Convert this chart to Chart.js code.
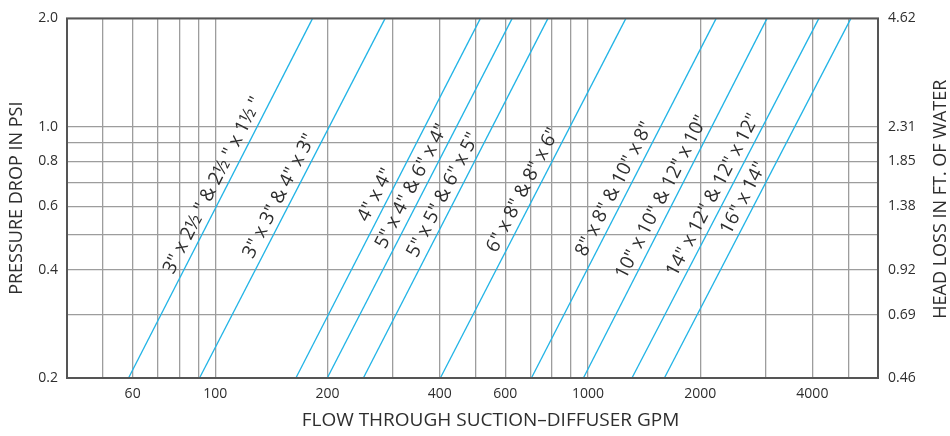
<!DOCTYPE html>
<html><head><meta charset="utf-8">
<script src="https://cdn.jsdelivr.net/npm/chart.js@4.4.1/dist/chart.umd.min.js"></script>
<style>html,body{margin:0;padding:0;background:#fff;}</style>
</head><body>
<canvas id="c" width="950" height="436"></canvas>
<script>
// ---- data ----
const seriesNames = [
  '3" x 2½ " & 2½ " x 1½ "',
  '3" x 3" & 4" x 3"',
  '4" x 4"',
  '5" x 4" & 6" x 4"',
  '5" x 5" & 6" x 5"',
  '6" x 8" & 8" x 6"',
  '8" x 8" & 10" x 8"',
  '10" x 10" & 12" x 10"',
  '14" x 12" & 12" x 12"',
  '16" x 14"'
];
const flowAtMinPsi = [58.5, 90.7, 164.5, 199.7, 249.6, 401.6, 705, 972, 1312, 1603];
const flowAtMaxPsi = [182.4, 285.6, 514.5, 626, 781, 1264, 2208, 3023, 4165, 5076];
const psiRange = [0.2, 2.0];
const flowRange = [40, 6000];
const labelPsi = [0.662, 0.618, 0.622, 0.658, 0.622, 0.642, 0.646, 0.614, 0.622, 0.61];
const flowGrid = [40,50,60,70,80,90,100,200,300,400,500,600,700,800,900,1000,2000,3000,4000,5000,6000];
const flowTickLabels = [60,100,200,400,600,1000,2000,4000];
const psiGrid = [0.2,0.3,0.4,0.5,0.6,0.7,0.8,0.9,1.0,2.0];
const psiTickLabels = [0.2,0.4,0.6,0.8,1.0,2.0];
const headTickPsi = [0.2,0.3,0.4,0.6,0.8,1.0,2.0];
const headTickLabels = ['0.46','0.69','0.92','1.38','1.85','2.31','4.62'];
const xTitle = 'FLOW THROUGH SUCTION–DIFFUSER GPM';
const yTitle = 'PRESSURE DROP IN PSI';
const y2Title = 'HEAD LOSS IN FT. OF WATER';

// ---- styles ----
const LINE_COLOR = '#22b4e6';
const GRID_COLOR = '#9d9d9d';
const TEXT_COLOR = '#2e2e2e';
const FONT = '"Open Sans", "Noto Sans", sans-serif';

const datasets = seriesNames.map((name, i) => ({
  label: name,
  data: [{x: flowAtMinPsi[i], y: psiRange[0]}, {x: flowAtMaxPsi[i], y: psiRange[1]}],
  borderColor: LINE_COLOR,
  borderWidth: 1.3,
  pointRadius: 0,
  showLine: true,
  fill: false
}));

const decorPlugin = {
  id: 'decor',
  afterDatasetsDraw(chart) {
    const ctx = chart.ctx;
    const ca = chart.chartArea;
    const ys = chart.scales.y;
    // frame
    ctx.save();
    ctx.strokeStyle = '#555';
    ctx.lineWidth = 2;
    ctx.strokeRect(ca.left, ca.top, ca.right - ca.left, ca.bottom - ca.top);
    ctx.restore();
    // series labels
    ctx.save();
    ctx.fillStyle = TEXT_COLOR;
    ctx.font = '19px ' + FONT;
    ctx.textAlign = 'center';
    ctx.textBaseline = 'middle';
    chart.data.datasets.forEach((ds, i) => {
      const pts = chart.getDatasetMeta(i).data;
      const p0 = pts[0], p1 = pts[1];
      const dx = p1.x - p0.x, dy = p1.y - p0.y;
      const len = Math.hypot(dx, dy);
      const yl = ys.getPixelForValue(labelPsi[i]);
      const t = (yl - p0.y) / dy;
      const xl = p0.x + t * dx;
      const nx = dy / len, ny = -dx / len; // upper-left normal
      const off = 12.5;
      ctx.save();
      ctx.translate(xl + nx * off, yl + ny * off);
      ctx.rotate(Math.atan2(dy, dx));
      ctx.fillText(ds.label, 0, 0);
      ctx.restore();
    });
    ctx.restore();
    // titles
    ctx.save();
    ctx.fillStyle = TEXT_COLOR;
    ctx.font = '19px ' + FONT;
    ctx.textAlign = 'center';
    ctx.textBaseline = 'middle';
    ctx.fillText(xTitle, (ca.left + ca.right) / 2 + 18, chart.height - 15);
    ctx.font = '18px ' + FONT;
    ctx.translate(chart.width - 9, (ca.top + ca.bottom) / 2 + 1);
    ctx.rotate(-Math.PI / 2);
    ctx.fillText(y2Title, 0, 0);
    ctx.restore();
  }
};

new Chart(document.getElementById('c'), {
  type: 'scatter',
  data: { datasets },
  options: {
    responsive: false,
    devicePixelRatio: 1,
    animation: false,
    layout: { padding: { top: 12, left: 0, right: 0, bottom: 0 } },
    plugins: { legend: { display: false }, tooltip: { enabled: false } },
    scales: {
      x: {
        type: 'logarithmic',
        min: flowRange[0], max: flowRange[1],
        afterBuildTicks: s => { s.ticks = flowGrid.map(v => ({ value: v })); },
        afterFit: s => { s.height = 58; },
        ticks: {
          autoSkip: false, maxRotation: 0, padding: 8,
          color: TEXT_COLOR, font: { family: FONT, size: 14 },
          callback: v => flowTickLabels.includes(v) ? String(v) : ''
        },
        grid: { color: GRID_COLOR, lineWidth: 1.3, drawTicks: false },
        border: { display: false }
      },
      y: {
        type: 'logarithmic',
        min: psiRange[0], max: psiRange[1],
        afterBuildTicks: s => { s.ticks = psiGrid.map(v => ({ value: v })); },
        afterFit: s => { s.width = 67; },
        ticks: {
          autoSkip: false, padding: 9,
          color: TEXT_COLOR, font: { family: FONT, size: 14 },
          callback: v => psiTickLabels.includes(v) ? v.toFixed(1) : ''
        },
        grid: { color: GRID_COLOR, lineWidth: 1.3, drawTicks: false },
        border: { display: false },
        title: { display: true, text: yTitle, color: TEXT_COLOR, font: { family: FONT, size: 18 }, padding: { top: 6, bottom: 0 } }
      },
      y2: {
        type: 'logarithmic',
        position: 'right',
        min: psiRange[0], max: psiRange[1],
        afterBuildTicks: s => { s.ticks = headTickPsi.map(v => ({ value: v })); },
        afterFit: s => { s.width = 72; },
        ticks: {
          autoSkip: false, padding: 10,
          color: TEXT_COLOR, font: { family: FONT, size: 14 },
          callback: v => { const k = headTickPsi.indexOf(v); return k >= 0 ? headTickLabels[k] : ''; }
        },
        grid: { display: false, drawTicks: false },
        border: { display: false }
      }
    }
  },
  plugins: [decorPlugin]
});
</script>
</body></html>
